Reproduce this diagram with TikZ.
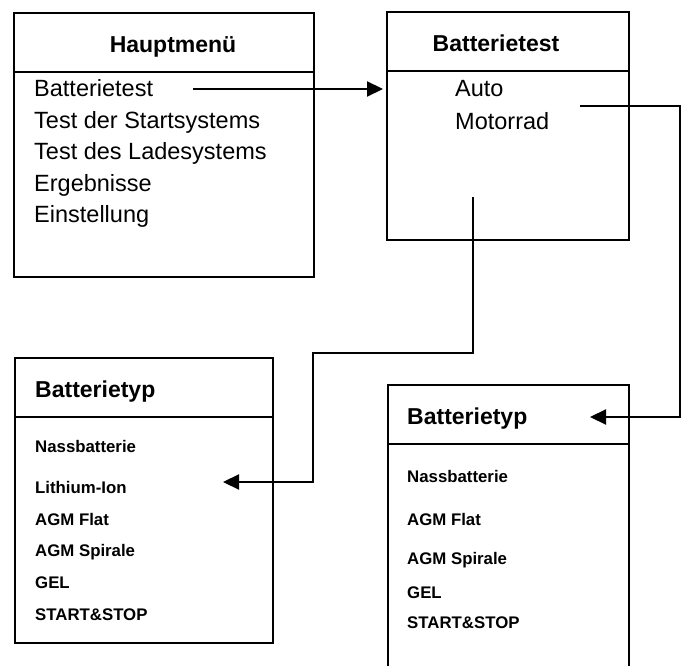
\documentclass[tikz,border=0pt]{standalone}
\usepackage{fontspec}
\setmainfont{Liberation Sans}
\usetikzlibrary{arrows.meta}

\begin{document}
\begin{tikzpicture}
[x=1pt, y=-1pt,
 box/.style={draw, line width=2pt, rectangle, inner sep=0pt, anchor=north west},
 title/.style={font=\bfseries\fontsize{23}{23}\selectfont, inner sep=0pt},
 item/.style={font=\fontsize{23.5}{24}\selectfont, inner sep=0pt, anchor=base west},
 sub/.style={font=\bfseries\fontsize{16.8}{17}\selectfont, inner sep=0pt, anchor=base west},
 arr/.style={line width=2.2pt, -{Triangle[length=16pt,width=15pt]}}]
\useasboundingbox (0,0) rectangle (681,666);
\clip (0,0) rectangle (681,666);

% boxes
\node[box, minimum width=300, minimum height=264] (menu) at (13,12) {};
\node[box, minimum width=242, minimum height=228] (test) at (386,11) {};
\node[box, minimum width=258, minimum height=285] (typA) at (14,357) {};
\node[box, minimum width=241, minimum height=310] (typB) at (387,384) {};

\draw[line width=2pt] (menu.west |- 0,72) -- (menu.east |- 0,72);
\draw[line width=2pt] (test.west |- 0,71) -- (test.east |- 0,71);
\draw[line width=2pt] (typA.west |- 0,417) -- (typA.east |- 0,417);
\draw[line width=2pt] (typB.west |- 0,444) -- (typB.east |- 0,444);

% titles
\node[title, anchor=base] (tmenu) at (173,53) {Hauptmenü};
\node[title, anchor=base] (ttest) at (496,52) {Batterietest};
\node[title, anchor=base west] (ttypA) at (35,397) {Batterietyp};
\node[title, anchor=base west] (ttypB) at (407,424) {Batterietyp};

% entries
\foreach \txt/\yy [count=\i] in {Batterietest/97, Test der Startsystems/128.5,
  Test des Ladesystems/160, Ergebnisse/191.5, Einstellung/223}
  \node[item] (m\i) at (34,\yy) {\txt};
\node[item] (auto) at (455,97) {Auto};
\node[item] (moto) at (455,130) {Motorrad};

\foreach \txt/\yy [count=\i] in {Nassbatterie/452, Lithium-Ion/493, AGM Flat/525,
  AGM Spirale/556, GEL/588, START\&STOP/620}
  \node[sub] (a\i) at (35,\yy) {\txt};
\foreach \txt/\yy [count=\i] in {Nassbatterie/482, AGM Flat/525,
  AGM Spirale/564, GEL/598, START\&STOP/628}
  \node[sub] (b\i) at (407,\yy) {\txt};

% connectors
\coordinate (s1) at (193,89);
\coordinate (s2) at (580,106);
\coordinate (e2) at (590,417);
\coordinate (s3) at (473,197);
\coordinate (e3) at (223,482);

\draw[arr, shorten >=3pt] (s1) -- (s1 -| test.west);
\draw[arr] (s2) -- (680,106) -- (680,417) -- (e2);
\draw[arr] (s3) -- (473,353) -- (313,353) -- (313,482) -- (e3);

\end{tikzpicture}
\end{document}
